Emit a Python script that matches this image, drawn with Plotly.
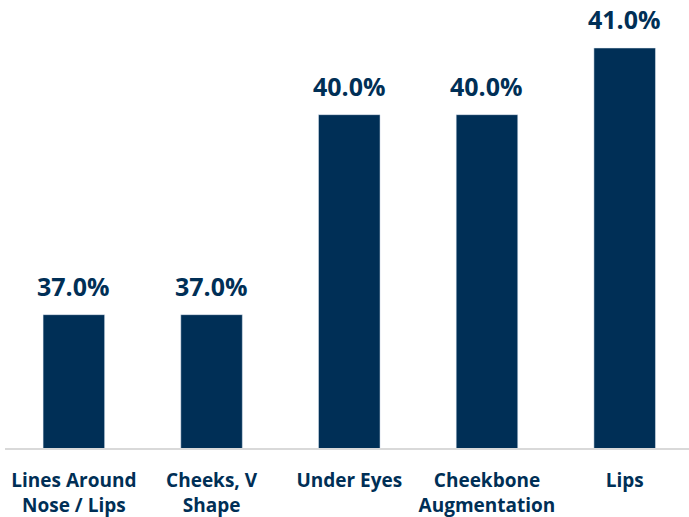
import plotly.graph_objects as go

categories = ["Lines Around<br>Nose / Lips", "Cheeks, V<br>Shape", "Under Eyes", "Cheekbone<br>Augmentation", "Lips"]
values = [37.0, 37.0, 40.0, 40.0, 41.0]
value_labels = [f"{v:.1f}%" for v in values]

navy = "#002F56"
font_family = "Open Sans, Liberation Sans, sans-serif"

fig = go.Figure(go.Bar(
    x=categories, y=values, marker_color=navy, width=0.447,
    hoverinfo="skip",
))

for c, v, t in zip(categories, values, value_labels):
    fig.add_annotation(x=c, y=v, text=f"<b>{t}</b>", showarrow=False,
                       yanchor="bottom", yshift=10,
                       font=dict(family=font_family, size=25, color=navy))

fig.update_layout(
    width=689, height=517,
    margin=dict(l=5, r=0, t=0, b=69, autoexpand=False),
    plot_bgcolor="white", paper_bgcolor="white",
    showlegend=False,
    font=dict(family=font_family, color=navy),
)
fig.update_xaxes(range=[-0.5, 4.467], showline=True, linecolor="#d9d9d9", linewidth=2,
                 showgrid=False, ticks="", ticklabelstandoff=14, automargin=False,
                 tickfont=dict(family=font_family, size=19, color=navy, weight="bold"))
fig.update_yaxes(range=[35, 41.72], visible=False, showgrid=False, zeroline=False)

fig.write_html("out.html", config={"displayModeBar": False},
               post_script="document.body.style.margin='0';")
